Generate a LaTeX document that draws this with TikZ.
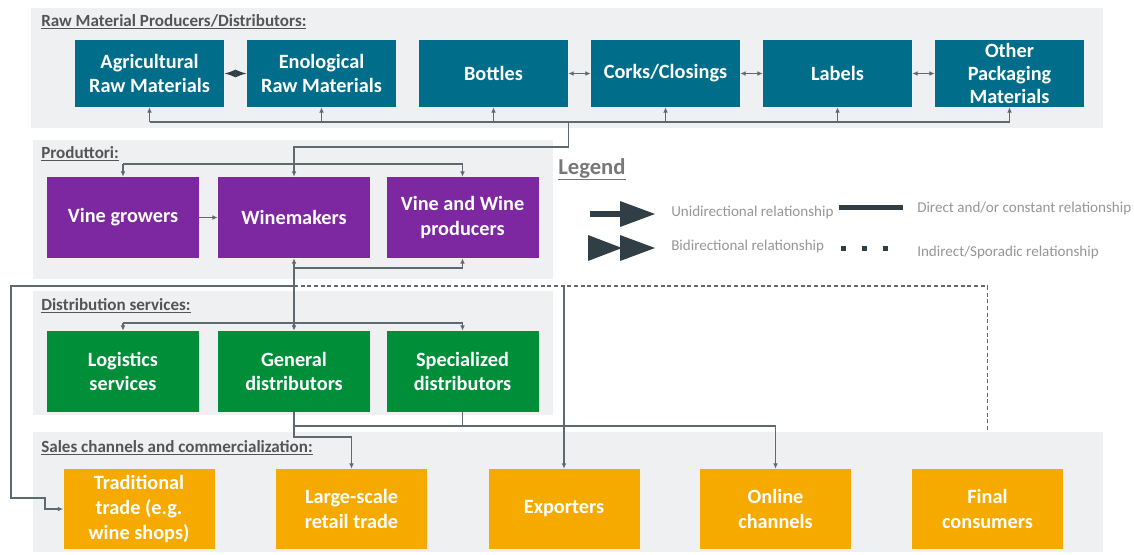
\documentclass[tikz,border=0pt]{standalone}
\usepackage{fontspec}
\setmainfont{Carlito}
\usetikzlibrary{arrows.meta}
\definecolor{teal}{RGB}{0,110,138}
\definecolor{purp}{RGB}{125,40,160}
\definecolor{grn}{RGB}{0,142,57}
\definecolor{orng}{RGB}{246,170,0}
\definecolor{panelc}{RGB}{239,240,241}
\definecolor{wirec}{RGB}{95,105,112}
\definecolor{titlec}{RGB}{85,85,85}
\definecolor{legdark}{RGB}{50,62,70}
\definecolor{legtext}{RGB}{150,150,150}
\begin{document}
\begin{tikzpicture}[x=0.75pt,y=-0.75pt,
  panel/.style={fill=panelc,draw=none},
  box/.style={rectangle,inner sep=0pt,text=white,align=center,
    font=\bfseries\fontsize{15.2}{18.6}\selectfont},
  rowA/.style={box,fill=teal,minimum width=111.75pt,minimum height=50.25pt},
  rowB/.style={box,fill=purp,minimum width=114pt,minimum height=60.75pt},
  rowC/.style={box,fill=grn,minimum width=114pt,minimum height=60.75pt},
  rowD/.style={box,fill=orng,minimum width=113.25pt,minimum height=60pt},
  ttl/.style={anchor=base west,inner sep=0pt,text=titlec,font=\bfseries\fontsize{12.8}{14}\selectfont},
  wire/.style={draw=wirec,line width=0.9pt},
  arr/.style={wire,-{Latex[length=4pt,width=3.5pt]}},
  biarr/.style={wire,{Latex[length=4pt,width=3.5pt]}-{Latex[length=4pt,width=3.5pt]}},
  ltxt/.style={anchor=west,inner sep=0pt,text=legtext,font=\fontsize{11.3}{13}\selectfont}
]
\useasboundingbox (0,0) rectangle (1134,554);
% panels
\fill[panel] (31,8) rectangle (1103,128);
\fill[panel] (33,140) rectangle (553,279);
\fill[panel] (33,291) rectangle (553,415);
\fill[panel] (33,432) rectangle (1103,552);
% titles
\node[ttl] (t1) at (41,26) {\underline{Raw Material Producers/Distributors:}};
\node[ttl] (t2) at (41,158) {\underline{Produttori:}};
\node[ttl] (t3) at (41,310) {\underline{Distribution services:}};
\node[ttl] (t4) at (41,452) {\underline{Sales channels and commercialization:}};
% row A
\node[rowA] (agr) at (149.5,73.5) {Agricultural\\Raw Materials};
\node[rowA] (eno) at (321.5,73.5) {Enological\\Raw Materials};
\node[rowA] (bot) at (493.5,73.5) {Bottles};
\node[rowA] (cork) at (665.5,73.5) {Corks/Closings};
\node[rowA] (lab) at (837.5,73.5) {Labels};
\node[rowA,font=\bfseries\fontsize{15.2}{17.3}\selectfont] (oth) at (1009.5,73.5) {Other\\Packaging\\Materials};
% row B
\node[rowB] (vg) at (123,217.5) {Vine growers};
\node[rowB] (win) at (294,217.5) {Winemakers};
\node[rowB] (vw) at (462.5,217.5) {Vine and Wine\\producers};
% row C
\node[rowC] (log) at (123,371.5) {Logistics\\services};
\node[rowC] (gen) at (294,371.5) {General\\distributors};
\node[rowC] (spe) at (462.5,371.5) {Specialized\\distributors};
% row D
\node[rowD] (trad) at (139,509) {Traditional\\trade (e.g.\\wine shops)};
\node[rowD] (lrg) at (351.5,509) {Large-scale\\retail trade};
\node[rowD] (exp) at (564,509) {Exporters};
\node[rowD] (onl) at (775.5,509) {Online\\channels};
\node[rowD] (fin) at (987.5,509) {Final\\consumers};
% helper coordinates
\coordinate (y1) at (0,122);
\coordinate (y2) at (0,147);
\coordinate (y3) at (0,164);
\coordinate (y4) at (0,268);
\coordinate (y5) at (0,286);
\coordinate (y6) at (0,323);
\coordinate (y7) at (0,426);
\coordinate (y8) at (0,437);
\coordinate (y9) at (0,498);
\coordinate (y10) at (0,432);
\coordinate (xa) at (11,0);
\coordinate (xb) at (45,0);
% row A connectors
\draw[draw=legdark,line width=1pt,{Latex[length=8.6pt,width=6pt]}-{Latex[length=8.6pt,width=6pt]}] (agr.east) -- (eno.west);
\draw[biarr] (bot.east) -- (cork.west);
\draw[biarr] (cork.east) -- (lab.west);
\draw[biarr] (lab.east) -- (oth.west);
\draw[wire] (agr.south|-y1) -- (oth.south|-y1);
\foreach \n in {agr,eno,bot,cork,lab,oth} \draw[arr] (\n.south|-y1) -- (\n.south);
\draw[arr] (bot.south east|-y1) -- (bot.south east|-y2) -| (win.north);
% row B connectors
\draw[wire] (vg.north|-y3) -- (vw.north|-y3);
\draw[arr] (vg.north|-y3) -- (vg.north);
\draw[arr] (vw.north|-y3) -- (vw.north);
\draw[arr] (vg) -- (win);
\draw[arr] (win.south|-y4) -- (win.south);
\draw[arr] (win.south|-y4) -- (vw.south|-y4) -- (vw.south);
\draw[arr] (win.south|-y4) -- (gen.north);
% to sales
\draw[arr] (win.south|-y5) -- (xa|-y5) -- (xa|-y9) -- (xb|-y9) |- (trad.west);
\draw[wire,dashed,dash pattern=on 3pt off 2pt] (win.south|-y5) -- (fin.north|-y5) -- (fin.north|-y10);
\draw[arr] (exp.north|-y5) -- (exp.north);
% row C connectors
\draw[wire] (log.north|-y6) -- (spe.north|-y6);
\draw[arr] (log.north|-y6) -- (log.north);
\draw[arr] (spe.north|-y6) -- (spe.north);
\draw[arr] (gen.south) -- (gen.south|-y7) -- (onl.north|-y7) -- (onl.north);
\draw[wire] (spe.south) -- (spe.south|-y7);
\draw[arr] (gen.south|-y7) -- (gen.south|-y8) -| (lrg.north);
% legend
\node[anchor=base west,inner sep=0pt,text=legtext!80!black,font=\bfseries\fontsize{17}{19}\selectfont] (leg) at (558,174) {\underline{Legend}};
\fill[legdark] (590,211) rectangle (622,217);
\fill[legdark] (620,201) -- (655,214) -- (620,227) -- cycle;
\fill[legdark] (588,235) -- (622,248) -- (588,261) -- cycle;
\fill[legdark] (620,235) -- (655,248) -- (620,261) -- cycle;
\node[ltxt] (l1) at (671,212) {Unidirectional relationship};
\node[ltxt] (l2) at (671,246) {Bidirectional relationship};
\fill[legdark] (839,205) rectangle (903,210);
\node[ltxt] (l3) at (917,208) {Direct and/or constant relationship};
\foreach \x in {841,862,883} \fill[legdark] (\x,245.5) rectangle ++(5,5);
\node[ltxt] (l4) at (917,252) {Indirect/Sporadic relationship};
\end{tikzpicture}
\end{document}
